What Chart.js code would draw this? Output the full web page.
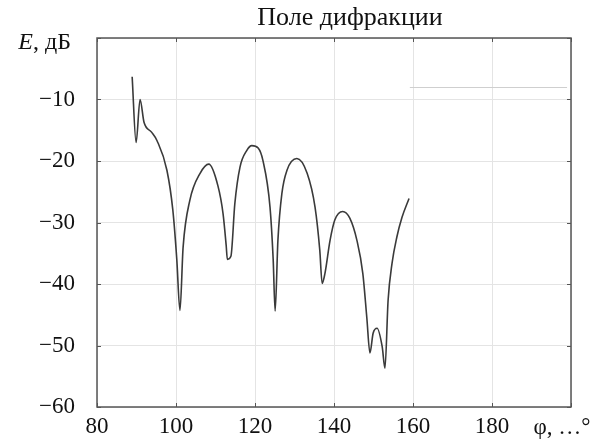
<!DOCTYPE html>
<html>
<head>
<meta charset="utf-8">
<script src="https://cdn.jsdelivr.net/npm/chart.js@4"></script>
<style>
  html, body { margin: 0; padding: 0; background: #fff; }
  #wrap { width: 597px; height: 444px; }
</style>
</head>
<body>
<div id="wrap"><canvas id="fieldChart"></canvas></div>
<script>
// angle, degrees
const phi = [88.9, 89.9, 90.9, 91.9, 93.8, 95.2, 97.7, 99.2, 100.2, 101.0, 101.8, 103.5, 106.1, 108.3, 110.6, 111.9, 112.7, 113.0, 113.9, 114.9, 116.2, 117.9, 119.2, 120.8, 122.0, 123.8, 124.6, 125.1, 125.8, 126.8, 128.1, 130.6, 133.2, 135.2, 136.4, 137.0, 137.7, 139.0, 140.2, 142.2, 144.0, 145.8, 147.3, 148.3, 149.1, 149.9, 150.9, 152.2, 152.9, 153.7, 154.7, 155.9, 157.2, 159.0];
// field level, dB
const level = [-6.3, -17.0, -10.0, -13.7, -15.3, -16.7, -21.5, -28.0, -36.0, -44.3, -34.0, -26.4, -22.0, -20.5, -24.0, -28.5, -33.7, -36.0, -35.5, -26.9, -21.0, -18.3, -17.5, -17.9, -19.9, -27.5, -36.0, -44.4, -32.9, -25.3, -21.5, -19.6, -22.0, -27.5, -34.5, -39.9, -38.3, -32.9, -29.6, -28.2, -29.3, -32.9, -38.3, -45.4, -51.2, -48.0, -47.2, -50.2, -53.7, -42.6, -36.6, -32.4, -29.2, -26.1];

// stray legend stroke in the upper right
const legendPhi = [159.2, 199];
const legendLevel = [-8.05, -8.05];

const xTicks = [80, 100, 120, 140, 160, 180, 200];
const yTicks = [-60, -50, -40, -30, -20, -10, 0];

const serif = "'Liberation Serif', 'Times New Roman', serif";

const frame = {
  id: "frame",
  afterDraw(chart) {
    const ctx = chart.ctx;
    const a = chart.chartArea;
    const xs = chart.scales.x, ys = chart.scales.y;
    ctx.save();
    ctx.strokeStyle = "#555";
    ctx.lineWidth = 1.5;
    ctx.strokeRect(a.left, a.top, a.right - a.left, a.bottom - a.top);
    // inward tick marks
    ctx.lineWidth = 1;
    ctx.beginPath();
    xTicks.forEach((t) => {
      const px = Math.round(xs.getPixelForValue(t)) + 0.5;
      ctx.moveTo(px, a.top); ctx.lineTo(px, a.top + 4);
      ctx.moveTo(px, a.bottom); ctx.lineTo(px, a.bottom - 4);
    });
    yTicks.forEach((t) => {
      const py = Math.round(ys.getPixelForValue(t)) + 0.5;
      ctx.moveTo(a.left, py); ctx.lineTo(a.left + 4, py);
      ctx.moveTo(a.right, py); ctx.lineTo(a.right - 4, py);
    });
    ctx.stroke();

    ctx.fillStyle = "#111";
    // title
    ctx.font = "26px " + serif;
    ctx.textAlign = "center";
    ctx.textBaseline = "middle";
    ctx.fillText("Поле дифракции", 350, 18);

    // y axis name at the 0 position
    ctx.textAlign = "left";
    ctx.font = "italic 24px " + serif;
    const wE = ctx.measureText("E").width;
    ctx.font = "24px " + serif;
    const wRest = ctx.measureText(", дБ").width;
    const x0 = 71 - wE - wRest;
    ctx.font = "italic 24px " + serif;
    ctx.fillText("E", x0, 43);
    ctx.font = "24px " + serif;
    ctx.fillText(", дБ", x0 + wE, 43);

    // x axis name at the 200 position
    ctx.font = "23px " + serif;
    ctx.textAlign = "center";
    ctx.fillText("φ, …°", 562, 428);
    ctx.restore();
  },
};

const data = {
  datasets: [
    {
      label: "E",
      data: phi.map((p, i) => ({ x: p, y: level[i] })),
      borderColor: "#3a3a3a",
      borderWidth: 1.6,
      pointRadius: 0,
      cubicInterpolationMode: "monotone",
      fill: false,
    },
    {
      label: "legend",
      data: legendPhi.map((p, i) => ({ x: p, y: legendLevel[i] })),
      borderColor: "#cfcfcf",
      borderWidth: 1,
      pointRadius: 0,
      fill: false,
    },
  ],
};

const config = {
  type: "line",
  data: data,
  options: {
    responsive: true,
    maintainAspectRatio: false,
    animation: false,
    layout: { padding: { top: 38, right: 26, left: 0, bottom: 0 } },
    plugins: {
      legend: { display: false },
      title: { display: false },
      tooltip: { enabled: false },
    },
    scales: {
      x: {
        type: "linear",
        min: 80,
        max: 200,
        afterBuildTicks: (s) => { s.ticks = xTicks.map((v) => ({ value: v })); },
        afterFit: (s) => { s.height = 37; },
        grid: { color: "#e4e4e4", lineWidth: 1, drawTicks: false },
        border: { display: false },
        ticks: {
          autoSkip: false,
          maxRotation: 0,
          padding: 6,
          color: "#111",
          font: { family: serif, size: 23 },
          callback: (v) => (v === 200 ? "" : String(v)),
        },
      },
      y: {
        min: -60,
        max: 0,
        afterBuildTicks: (s) => { s.ticks = yTicks.map((v) => ({ value: v })); },
        afterFit: (s) => { s.width = 97; },
        grid: { color: "#e4e4e4", lineWidth: 1, drawTicks: false },
        border: { display: false },
        ticks: {
          padding: 22,
          color: "#111",
          font: { family: serif, size: 23 },
          callback: (v) => (v === 0 ? "" : "\u2212" + Math.abs(v)),
        },
      },
    },
  },
  plugins: [frame],
};

let myChart = new Chart(document.getElementById("fieldChart"), config);
</script>
</body>
</html>
